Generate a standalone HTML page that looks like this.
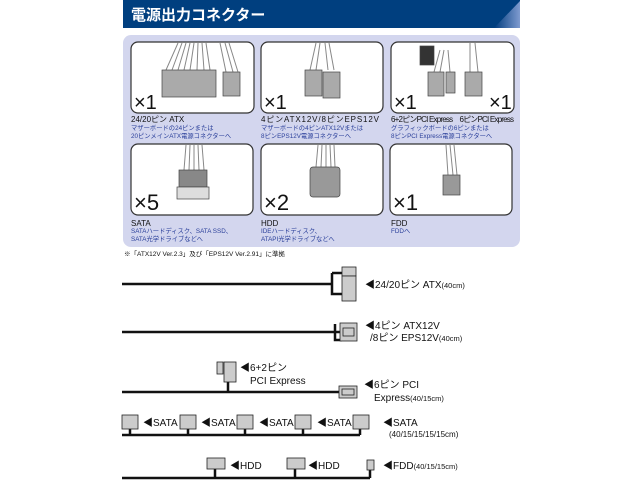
<!DOCTYPE html>
<html><head><meta charset="utf-8"><style>
body{margin:0;background:#fff;}
svg{display:block;font-family:"Liberation Sans","Noto Sans CJK JP",sans-serif;}
</style></head><body>
<svg width="640" height="480" viewBox="0 0 640 480">
<defs><linearGradient id="g" x1="0" x2="1"><stop offset="0" stop-color="#003c7e"/><stop offset="1" stop-color="#7f9bd0"/></linearGradient></defs>
<rect x="123" y="0" width="397" height="28" fill="#003f7f"/>
<polygon points="494,28 520,1 520,28" fill="url(#g)"/>
<text x="131" y="20" font-size="15" font-weight="bold" fill="#fff">電源出力コネクター</text>
<rect x="123" y="35" width="397" height="212" rx="8" fill="#d3d6ee"/>
<g fill="#fff" stroke="#333" stroke-width="1.2">
<rect x="131" y="42" width="123" height="71" rx="7"/><rect x="261" y="42" width="122" height="71" rx="7"/><rect x="391" y="42" width="123" height="71" rx="7"/>
<rect x="131" y="144" width="122" height="71" rx="7"/><rect x="261" y="144" width="122" height="71" rx="7"/><rect x="390" y="144" width="122" height="71" rx="7"/>
</g>
<g stroke="#888" stroke-width="1">
<path d="M178 43 L166 70 M182 43 L172 70 M186 43 L178 70 M190 43 L184 70 M194 43 L190 70 M198 43 L197 70 M202 43 L204 70 M206 43 L210 70 M220 43 L226 72 M225 43 L233 72 M229 43 L238 72"/>
<path d="M316 43 L310 70 M320 43 L316 70 M325 43 L328 70 M329 43 L334 70"/>
<path d="M440 50 L434 72 M444 50 L440 72 M448 50 L450 72 M470 43 L470 72 M475 43 L478 72"/>
<path d="M186 145 L184 170 M190 145 L189 170 M194 145 L194 170 M198 145 L199 170 M202 145 L204 170"/>
<path d="M318 145 L316 167 M322 145 L321 167 M326 145 L326 167 M330 145 L331 167 M334 145 L335 167"/>
<path d="M446 145 L448 175 M450 145 L453 175 M454 145 L457 175"/>
</g>
<g fill="#aaa" stroke="#444" stroke-width="0.7">
<rect x="162" y="70" width="54" height="27"/><rect x="223" y="72" width="17" height="24"/>
<rect x="305" y="70" width="17" height="26"/><rect x="323" y="72" width="17" height="26"/>
<rect x="420" y="46" width="14" height="19" fill="#333"/><rect x="428" y="72" width="16" height="24"/><rect x="446" y="72" width="9" height="21"/><rect x="465" y="72" width="17" height="24"/>
<rect x="179" y="170" width="28" height="17" fill="#888"/><rect x="177" y="187" width="32" height="12" fill="#ddd"/>
<rect x="310" y="167" width="30" height="30" rx="3" fill="#999"/>
<rect x="443" y="175" width="17" height="20" fill="#999"/>
</g>
<g font-size="20" fill="#111"><text x="134" y="109">×1</text><text x="264" y="109">×1</text><text x="394" y="109">×1</text><text x="489" y="109">×1</text></g>
<g font-size="22" fill="#111"><text x="134" y="210">×5</text><text x="264" y="210">×2</text><text x="393" y="210">×1</text></g>
<g font-size="8" fill="#111">
<text x="131" y="122">24/20ピン ATX</text><text x="261" y="122" textLength="118">4ピンATX12V/8ピンEPS12V</text><text x="391" y="122" textLength="123">6+2ピンPCI Express　6ピンPCI Express</text>
<text x="131" y="226">SATA</text><text x="261" y="226">HDD</text><text x="391" y="226">FDD</text>
</g>
<g font-size="6.3" fill="#2a3f9a">
<text x="131" y="130">マザーボードの24ピンまたは</text><text x="131" y="138">20ピンメインATX電源コネクターへ</text>
<text x="261" y="130">マザーボードの4ピンATX12Vまたは</text><text x="261" y="138">8ピンEPS12V電源コネクターへ</text>
<text x="391" y="130">グラフィックボードの6ピンまたは</text><text x="391" y="138">8ピンPCI Express電源コネクターへ</text>
<text x="131" y="233">SATAハードディスク、SATA SSD、</text><text x="131" y="241">SATA光学ドライブなどへ</text>
<text x="261" y="233">IDEハードディスク、</text><text x="261" y="241">ATAPI光学ドライブなどへ</text>
<text x="391" y="233">FDDへ</text>
</g>
<text x="124" y="256" font-size="6.5" fill="#111">※「ATX12V Ver.2.3」及び「EPS12V Ver.2.91」に準拠</text>
<g stroke="#111" stroke-width="2.5" fill="none">
<path d="M122 284 H332 M332 273 V294 H342 M332 273 H342"/>
<path d="M122 332 H340 M335 324 V340 H342"/>
<path d="M122 392 H340 M228 380 V392"/>
<path d="M122 435 H360 M130 428 V435 M188 428 V435 M245 428 V435 M303 428 V435 M360 428 V435"/>
<path d="M122 478 H370 M215 468 V478 M295 468 V478 M370 468 V478"/>
</g>
<g fill="#ccc" stroke="#222" stroke-width="0.8">
<rect x="342" y="267" width="14" height="9"/><rect x="342" y="276" width="14" height="25"/>
<rect x="340" y="323" width="17" height="18"/><rect x="343" y="328" width="11" height="8"/>
<rect x="217" y="362" width="6" height="12"/><rect x="224" y="362" width="12" height="20"/>
<rect x="339" y="386" width="18" height="12"/><rect x="342" y="389" width="12" height="6"/>
<rect x="122" y="415" width="16" height="14"/><rect x="180" y="415" width="16" height="14"/><rect x="237" y="415" width="16" height="14"/><rect x="295" y="415" width="16" height="14"/><rect x="353" y="415" width="16" height="14"/>
<rect x="207" y="458" width="18" height="11"/><rect x="287" y="458" width="18" height="11"/><rect x="367" y="460" width="7" height="10"/>
</g>
<g font-size="10" fill="#111">
<text x="365" y="288">◀24/20ピン ATX<tspan font-size="7.5">(40cm)</tspan></text>
<text x="365" y="329">◀4ピン ATX12V</text><text x="370" y="341">/8ピン EPS12V<tspan font-size="7.5">(40cm)</tspan></text>
<text x="240" y="371">◀6+2ピン</text><text x="250" y="384">PCI Express</text>
<text x="364" y="388">◀6ピン PCI</text><text x="374" y="401">Express<tspan font-size="7.5">(40/15cm)</tspan></text>
<text x="143" y="426">◀SATA</text><text x="201" y="426">◀SATA</text><text x="259" y="426">◀SATA</text><text x="317" y="426">◀SATA</text><text x="383" y="426">◀SATA</text>
<text x="389" y="437" font-size="8">(40/15/15/15/15cm)</text>
<text x="230" y="469">◀HDD</text><text x="308" y="469">◀HDD</text><text x="383" y="469">◀FDD<tspan font-size="7.5">(40/15/15cm)</tspan></text>
</g>
</svg>
</body></html>
